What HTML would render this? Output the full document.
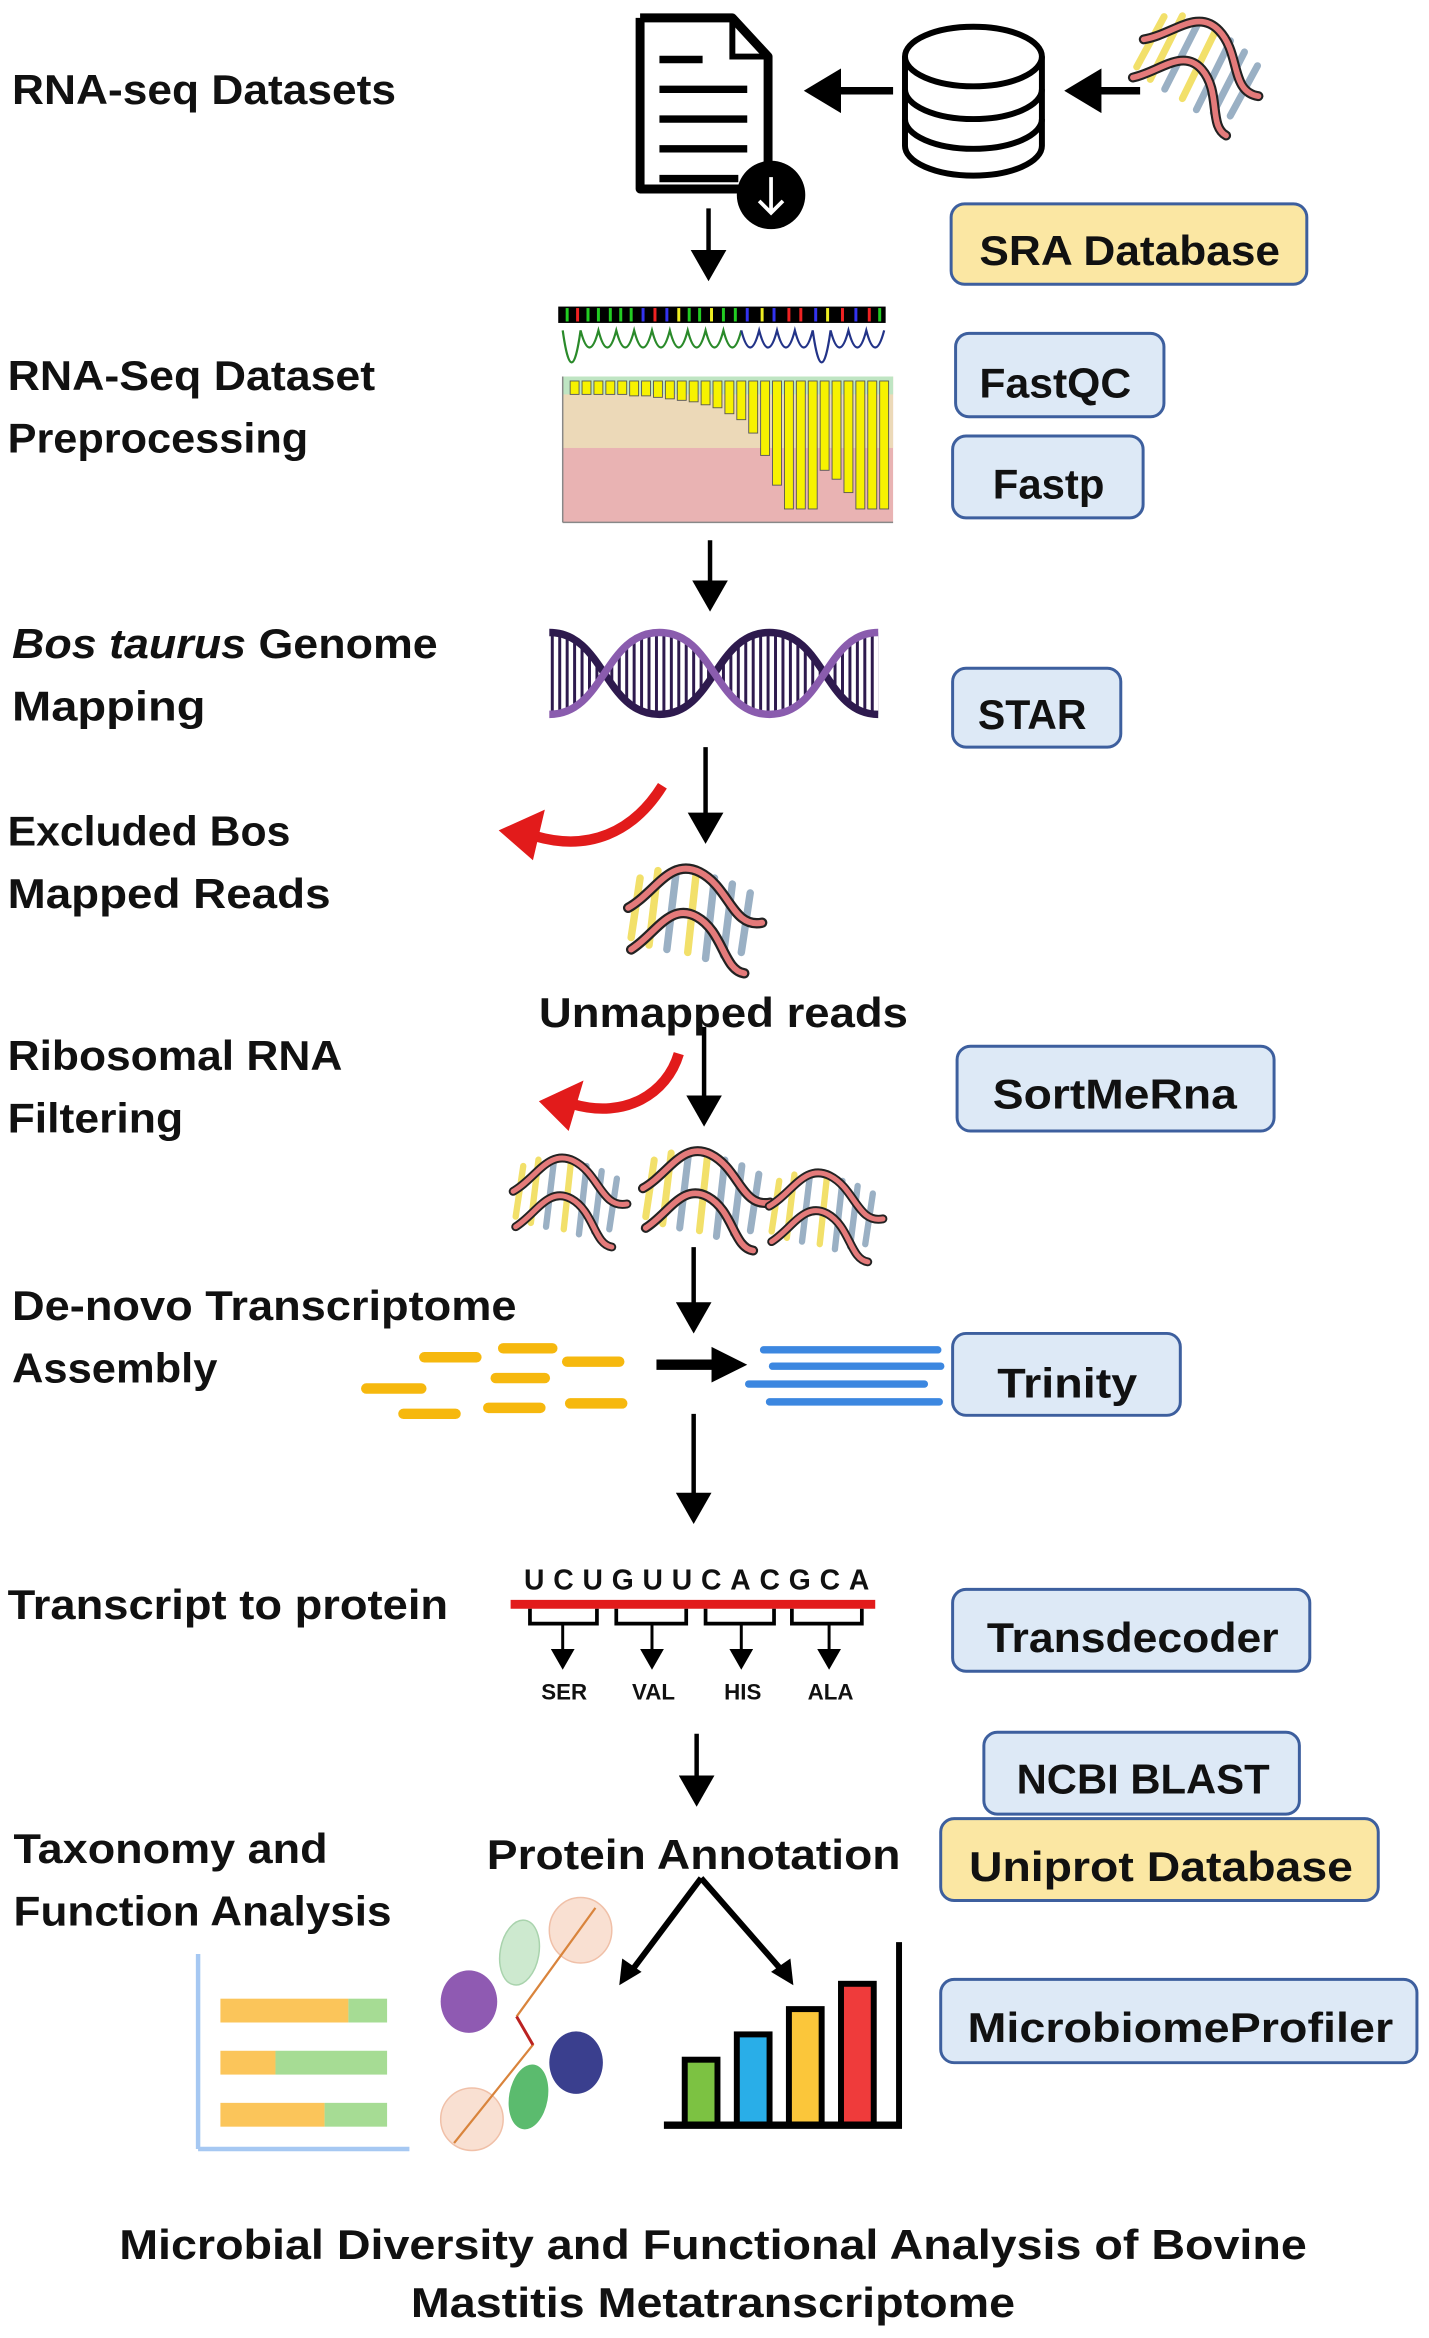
<!DOCTYPE html>
<html><head><meta charset="utf-8"><style>
html,body{margin:0;padding:0;background:#fff;}
svg{display:block;}
text{font-family:"Liberation Sans",sans-serif;font-weight:bold;fill:#111;}
.lbl{font-size:28px;}
.box{stroke:#3d5f9e;stroke-width:2;}
.blue{fill:#dde9f6;}
.yel{fill:#fbe7a3;}
</style></head><body>
<svg width="1429" height="2338" viewBox="0 0 960 1571" xmlns="http://www.w3.org/2000/svg">
<defs>
<marker id="ah" markerWidth="8" markerHeight="8" refX="6" refY="4" orient="auto" markerUnits="strokeWidth">
<path d="M0,0 L7,4 L0,8 Z" fill="#000"/></marker>
<marker id="ah2" markerWidth="6" markerHeight="6" refX="4" refY="3" orient="auto" markerUnits="strokeWidth">
<path d="M0,0 L5,3 L0,6 Z" fill="#000"/></marker>
<pattern id="vl" width="5" height="10" patternUnits="userSpaceOnUse"><rect x="0" y="0" width="2" height="10" fill="#2e1a4e"/></pattern>
<g id="reads">
<line x1="10" y1="10" x2="4" y2="50" stroke="#f2e06a" stroke-width="5" stroke-linecap="round"/>
<line x1="22" y1="5" x2="16" y2="55" stroke="#f2e06a" stroke-width="5" stroke-linecap="round"/>
<line x1="34" y1="8" x2="28" y2="58" stroke="#9ab0c4" stroke-width="5" stroke-linecap="round"/>
<line x1="48" y1="4" x2="42" y2="60" stroke="#f2e06a" stroke-width="5" stroke-linecap="round"/>
<line x1="60" y1="10" x2="54" y2="64" stroke="#9ab0c4" stroke-width="5" stroke-linecap="round"/>
<line x1="72" y1="14" x2="66" y2="62" stroke="#9ab0c4" stroke-width="5" stroke-linecap="round"/>
<line x1="84" y1="20" x2="78" y2="60" stroke="#9ab0c4" stroke-width="5" stroke-linecap="round"/>
<path d="M2,30 C20,20 30,-4 50,6 C70,16 72,44 92,40" fill="none" stroke="#222" stroke-width="7" stroke-linecap="round"/>
<path d="M2,30 C20,20 30,-4 50,6 C70,16 72,44 92,40" fill="none" stroke="#e47a7a" stroke-width="4" stroke-linecap="round"/>
<path d="M4,58 C20,48 30,26 48,36 C66,46 66,72 80,74" fill="none" stroke="#222" stroke-width="7" stroke-linecap="round"/>
<path d="M4,58 C20,48 30,26 48,36 C66,46 66,72 80,74" fill="none" stroke="#e47a7a" stroke-width="4" stroke-linecap="round"/>
</g>
</defs>

<text class="lbl" x="8" y="70" textLength="258" lengthAdjust="spacingAndGlyphs">RNA-seq Datasets</text>
<text class="lbl" x="5" y="262" textLength="247" lengthAdjust="spacingAndGlyphs">RNA-Seq Dataset</text>
<text class="lbl" x="5" y="304" textLength="202" lengthAdjust="spacingAndGlyphs">Preprocessing</text>
<text class="lbl" x="8" y="442" textLength="286" lengthAdjust="spacingAndGlyphs"><tspan font-style="italic">Bos taurus </tspan>Genome</text>
<text class="lbl" x="8" y="484" textLength="130" lengthAdjust="spacingAndGlyphs">Mapping</text>
<text class="lbl" x="5" y="568" textLength="190" lengthAdjust="spacingAndGlyphs">Excluded Bos</text>
<text class="lbl" x="5" y="610" textLength="217" lengthAdjust="spacingAndGlyphs">Mapped Reads</text>
<text class="lbl" x="5" y="719" textLength="225" lengthAdjust="spacingAndGlyphs">Ribosomal RNA</text>
<text class="lbl" x="5" y="761" textLength="118" lengthAdjust="spacingAndGlyphs">Filtering</text>
<text class="lbl" x="8" y="887" textLength="339" lengthAdjust="spacingAndGlyphs">De-novo Transcriptome</text>
<text class="lbl" x="8" y="929" textLength="138" lengthAdjust="spacingAndGlyphs">Assembly</text>
<text class="lbl" x="5" y="1088" textLength="296" lengthAdjust="spacingAndGlyphs">Transcript to protein</text>
<text class="lbl" x="9" y="1252" textLength="211" lengthAdjust="spacingAndGlyphs">Taxonomy and</text>
<text class="lbl" x="9" y="1294" textLength="254" lengthAdjust="spacingAndGlyphs">Function Analysis</text>

<rect class="box yel" x="639" y="137" width="239" height="54" rx="9"/>
<text class="lbl" x="658" y="178" textLength="202" lengthAdjust="spacingAndGlyphs">SRA Database</text>
<rect class="box blue" x="642" y="224" width="140" height="56" rx="9"/>
<text class="lbl" x="658" y="267" textLength="102" lengthAdjust="spacingAndGlyphs">FastQC</text>
<rect class="box blue" x="640" y="293" width="128" height="55" rx="9"/>
<text class="lbl" x="667" y="335" textLength="75" lengthAdjust="spacingAndGlyphs">Fastp</text>
<rect class="box blue" x="640" y="449" width="113" height="53" rx="9"/>
<text class="lbl" x="657" y="490" textLength="73" lengthAdjust="spacingAndGlyphs">STAR</text>
<rect class="box blue" x="643" y="703" width="213" height="57" rx="9"/>
<text class="lbl" x="667" y="745" textLength="164" lengthAdjust="spacingAndGlyphs">SortMeRna</text>
<rect class="box blue" x="640" y="896" width="153" height="55" rx="9"/>
<text class="lbl" x="670" y="939" textLength="94" lengthAdjust="spacingAndGlyphs">Trinity</text>
<rect class="box blue" x="640" y="1068" width="240" height="55" rx="9"/>
<text class="lbl" x="663" y="1110" textLength="196" lengthAdjust="spacingAndGlyphs">Transdecoder</text>
<rect class="box blue" x="661" y="1164" width="212" height="55" rx="9"/>
<text class="lbl" x="683" y="1205" textLength="170" lengthAdjust="spacingAndGlyphs">NCBI BLAST</text>
<rect class="box yel" x="632" y="1222" width="294" height="55" rx="9"/>
<text class="lbl" x="651" y="1264" textLength="258" lengthAdjust="spacingAndGlyphs">Uniprot Database</text>
<rect class="box blue" x="632" y="1330" width="320" height="56" rx="9"/>
<text class="lbl" x="650" y="1372" textLength="286" lengthAdjust="spacingAndGlyphs">MicrobiomeProfiler</text>

<path d="M430,12 L492,12 L516,38 L516,112" fill="none" stroke="#000" stroke-width="6" stroke-linejoin="round"/>
<path d="M430,12 L430,127 L500,127" fill="none" stroke="#000" stroke-width="6" stroke-linejoin="round"/>
<path d="M492,14 L492,38 L514,38" fill="none" stroke="#000" stroke-width="4"/>
<g stroke="#000" stroke-width="5"><line x1="443" y1="40" x2="472" y2="40"/><line x1="443" y1="60" x2="502" y2="60"/><line x1="443" y1="80" x2="502" y2="80"/><line x1="443" y1="100" x2="502" y2="100"/><line x1="443" y1="120" x2="496" y2="120"/></g>
<circle cx="518" cy="131" r="23" fill="#000"/>
<path d="M518,119 L518,143 M510,135 L518,143 L526,135" stroke="#fff" stroke-width="2.5" fill="none"/>
<g fill="#fff" stroke="#000" stroke-width="4">
<path d="M608,38 L608,98 A46,20 0 0 0 700,98 L700,38"/>
<ellipse cx="654" cy="38" rx="46" ry="20"/>
<path d="M608,60 A46,20 0 0 0 700,60" fill="none"/>
<path d="M608,80 A46,20 0 0 0 700,80" fill="none"/>
</g>
<line x1="600" y1="61" x2="545" y2="61" stroke="#000" stroke-width="5" marker-end="url(#ah2)"/>
<line x1="766" y1="61" x2="720" y2="61" stroke="#000" stroke-width="5" marker-end="url(#ah2)"/>
<use href="#reads" transform="translate(760,12) rotate(20 45 40) scale(0.95)"/>

<g stroke="#000" stroke-width="3" marker-end="url(#ah)">
<line x1="476" y1="140" x2="476" y2="186"/>
<line x1="477" y1="363" x2="477" y2="408"/>
<line x1="474" y1="502" x2="474" y2="564"/>
<line x1="473" y1="690" x2="473" y2="754"/>
<line x1="466" y1="838" x2="466" y2="893"/>
<line x1="466" y1="950" x2="466" y2="1021"/>
<line x1="468" y1="1165" x2="468" y2="1211"/>
</g>

<g>
<rect x="375" y="206" width="220" height="11" fill="#000"/>
<g stroke-width="2">
<line x1="381" y1="207" x2="381" y2="216" stroke="#2c2"/><line x1="388" y1="207" x2="388" y2="216" stroke="#e22"/><line x1="395" y1="207" x2="395" y2="216" stroke="#2c2"/><line x1="402" y1="207" x2="402" y2="216" stroke="#2c2"/><line x1="410" y1="207" x2="410" y2="216" stroke="#2c2"/><line x1="417" y1="207" x2="417" y2="216" stroke="#2c2"/><line x1="424" y1="207" x2="424" y2="216" stroke="#2c2"/><line x1="432" y1="207" x2="432" y2="216" stroke="#33e"/><line x1="440" y1="207" x2="440" y2="216" stroke="#e22"/><line x1="448" y1="207" x2="448" y2="216" stroke="#33e"/><line x1="456" y1="207" x2="456" y2="216" stroke="#ee2"/><line x1="463" y1="207" x2="463" y2="216" stroke="#2c2"/><line x1="470" y1="207" x2="470" y2="216" stroke="#2c2"/><line x1="478" y1="207" x2="478" y2="216" stroke="#ee2"/><line x1="486" y1="207" x2="486" y2="216" stroke="#2c2"/><line x1="494" y1="207" x2="494" y2="216" stroke="#2c2"/><line x1="502" y1="207" x2="502" y2="216" stroke="#33e"/><line x1="512" y1="207" x2="512" y2="216" stroke="#ee2"/><line x1="520" y1="207" x2="520" y2="216" stroke="#33e"/><line x1="530" y1="207" x2="530" y2="216" stroke="#e22"/><line x1="538" y1="207" x2="538" y2="216" stroke="#e22"/><line x1="548" y1="207" x2="548" y2="216" stroke="#33e"/><line x1="556" y1="207" x2="556" y2="216" stroke="#ee2"/><line x1="566" y1="207" x2="566" y2="216" stroke="#e22"/><line x1="575" y1="207" x2="575" y2="216" stroke="#33e"/><line x1="584" y1="207" x2="584" y2="216" stroke="#e22"/><line x1="591" y1="207" x2="591" y2="216" stroke="#2c2"/>
</g>
<path d="M378,222 Q384,265 390,222 Q396,245 402,222 Q408,245 414,222 Q420,245 426,222 Q432,245 438,222 Q444,245 450,222 Q456,245 462,222 Q468,245 474,222 Q480,245 486,222 Q492,245 498,222" fill="none" stroke="#2a8a2a" stroke-width="1.5"/>
<path d="M498,222 Q504,245 510,222 Q516,245 522,222 Q528,245 534,222 Q540,245 546,222 Q552,265 558,222 Q564,245 570,222 Q576,245 582,222 Q588,245 594,222" fill="none" stroke="#223388" stroke-width="1.5"/>
<rect x="378" y="253" width="222" height="98" fill="#e9b3b3"/>
<rect x="378" y="253" width="222" height="48" fill="#ecd9b8"/>
<rect x="378" y="253" width="222" height="12" fill="#bfe5c3"/>
<g fill="#f7f200" stroke="#555" stroke-width="0.6">
<rect x="383" y="256" width="6" height="9"/><rect x="391" y="256" width="6" height="9"/><rect x="399" y="256" width="6" height="9"/><rect x="407" y="256" width="6" height="9"/><rect x="415" y="256" width="6" height="9"/><rect x="423" y="256" width="6" height="10"/><rect x="431" y="256" width="6" height="10"/><rect x="439" y="256" width="6" height="11"/><rect x="447" y="256" width="6" height="12"/><rect x="455" y="256" width="6" height="13"/><rect x="463" y="256" width="6" height="14"/><rect x="471" y="256" width="6" height="16"/><rect x="479" y="256" width="6" height="18"/><rect x="487" y="256" width="6" height="22"/><rect x="495" y="256" width="6" height="26"/><rect x="503" y="256" width="6" height="35"/><rect x="511" y="256" width="6" height="50"/><rect x="519" y="256" width="6" height="70"/><rect x="527" y="256" width="6" height="86"/><rect x="535" y="256" width="6" height="86"/><rect x="543" y="256" width="6" height="86"/><rect x="551" y="256" width="6" height="60"/><rect x="559" y="256" width="6" height="66"/><rect x="567" y="256" width="6" height="75"/><rect x="575" y="256" width="6" height="86"/><rect x="583" y="256" width="6" height="86"/><rect x="591" y="256" width="6" height="86"/>
</g>
<line x1="378" y1="351" x2="600" y2="351" stroke="#888" stroke-width="1"/>
<line x1="378" y1="253" x2="378" y2="351" stroke="#888" stroke-width="1"/>
</g>

<!-- DNA helix: half period 74 -->
<path d="M369,425 C406,425 406,480 443,480 C480,480 480,425 517,425 C554,425 554,480 590,480 L590,425 C554,425 554,480 517,480 C480,480 480,425 443,425 C406,425 406,480 369,480 Z" fill="url(#vl)" stroke="none"/>
<path d="M369,425 C406,425 406,480 443,480 C480,480 480,425 517,425 C554,425 554,480 590,480" fill="none" stroke="#2e1a4e" stroke-width="5"/>
<path d="M369,480 C406,480 406,425 443,425 C480,425 480,480 517,480 C554,480 554,425 590,425" fill="none" stroke="#8a5cae" stroke-width="5"/>

<path d="M445,528 C425,560 395,572 360,562" fill="none" stroke="#e21b1b" stroke-width="7"/>
<path d="M335,558 L366,544 L358,578 Z" fill="#e21b1b"/>
<path d="M456,708 C448,735 420,752 385,742" fill="none" stroke="#e21b1b" stroke-width="7"/>
<path d="M362,740 L392,726 L382,760 Z" fill="#e21b1b"/>

<use href="#reads" transform="translate(420,580)"/>
<text x="486" y="690" text-anchor="middle" font-size="28" textLength="248" lengthAdjust="spacingAndGlyphs">Unmapped reads</text>
<use href="#reads" transform="translate(343,775) scale(0.85)"/>
<use href="#reads" transform="translate(430,770) scale(0.95)"/>
<use href="#reads" transform="translate(515,785) scale(0.85)"/>

<g stroke="#f6b80e" stroke-width="7" stroke-linecap="round">
<line x1="285" y1="912" x2="320" y2="912"/><line x1="338" y1="906" x2="371" y2="906"/><line x1="381" y1="915" x2="416" y2="915"/><line x1="333" y1="926" x2="366" y2="926"/><line x1="246" y1="933" x2="283" y2="933"/><line x1="271" y1="950" x2="306" y2="950"/><line x1="328" y1="946" x2="363" y2="946"/><line x1="383" y1="943" x2="418" y2="943"/>
</g>
<line x1="441" y1="917" x2="480" y2="917" stroke="#000" stroke-width="7"/>
<path d="M478,905 L502,917 L478,929 Z" fill="#000"/>
<g stroke="#3c87e0" stroke-width="5" stroke-linecap="round">
<line x1="513" y1="907" x2="630" y2="907"/><line x1="519" y1="918" x2="632" y2="918"/><line x1="503" y1="930" x2="621" y2="930"/><line x1="517" y1="942" x2="631" y2="942"/>
</g>

<text x="352" y="1068" font-size="19" textLength="232" lengthAdjust="spacing">UCUGUUCACGCA</text>
<line x1="343" y1="1078" x2="588" y2="1078" stroke="#e21b1b" stroke-width="6"/>
<g fill="none" stroke="#000" stroke-width="2.5">
<path d="M356,1081 L356,1091 L401,1091 L401,1081"/><path d="M414,1081 L414,1091 L461,1091 L461,1081"/><path d="M474,1081 L474,1091 L520,1091 L520,1081"/><path d="M532,1081 L532,1091 L579,1091 L579,1081"/>
</g>
<g stroke="#000" stroke-width="2" marker-end="url(#ah)">
<line x1="378" y1="1091" x2="378" y2="1120"/><line x1="438" y1="1091" x2="438" y2="1120"/><line x1="498" y1="1091" x2="498" y2="1120"/><line x1="557" y1="1091" x2="557" y2="1120"/>
</g>
<g font-size="15" text-anchor="middle"><text x="379" y="1142">SER</text><text x="439" y="1142">VAL</text><text x="499" y="1142">HIS</text><text x="558" y="1142">ALA</text></g>

<text x="466" y="1256" text-anchor="middle" font-size="28" textLength="278" lengthAdjust="spacingAndGlyphs">Protein Annotation</text>
<g stroke="#000" stroke-width="4" fill="none">
<path d="M471,1262 L423,1326"/><path d="M471,1262 L527,1326"/>
</g>
<path d="M416,1334 L418,1316 L431,1325 Z" fill="#000"/>
<path d="M533,1334 L518,1325 L531,1316 Z" fill="#000"/>

<g stroke="#a6c8f2" stroke-width="3">
<line x1="133" y1="1313" x2="133" y2="1444"/><line x1="133" y1="1444" x2="275" y2="1444"/>
</g>
<rect x="148" y="1343" width="86" height="16" fill="#fbc55a"/><rect x="234" y="1343" width="26" height="16" fill="#a6dc94"/>
<rect x="148" y="1378" width="37" height="16" fill="#fbc55a"/><rect x="185" y="1378" width="75" height="16" fill="#a6dc94"/>
<rect x="148" y="1413" width="70" height="16" fill="#fbc55a"/><rect x="218" y="1413" width="42" height="16" fill="#a6dc94"/>

<ellipse cx="390" cy="1297" rx="21" ry="22" fill="#f9e0d2" stroke="#f0c0a8"/>
<ellipse cx="349" cy="1312" rx="13" ry="22" fill="#cde9cf" stroke="#a9d3ad" transform="rotate(10 349 1312)"/>
<ellipse cx="315" cy="1345" rx="19" ry="21" fill="#8f5ab2"/>
<ellipse cx="387" cy="1386" rx="18" ry="21" fill="#3a3f8e"/>
<ellipse cx="355" cy="1409" rx="13" ry="22" fill="#5bbb6e" transform="rotate(10 355 1409)"/>
<ellipse cx="317" cy="1424" rx="21" ry="21" fill="#f9e0d2" stroke="#f0c0a8"/>
<path d="M347,1355 L400,1282 M347,1355 L358,1374 L305,1440" stroke="#d9843c" stroke-width="1.5" fill="none"/>
<path d="M347,1355 L358,1374" stroke="#b22" stroke-width="2"/>

<g stroke="#000" stroke-width="4">
<rect x="460" y="1384" width="22" height="44" fill="#7cc242"/>
<rect x="495" y="1367" width="22" height="61" fill="#29aee8"/>
<rect x="530" y="1350" width="22" height="78" fill="#fbc63a"/>
<rect x="565" y="1333" width="22" height="95" fill="#ef3b3b"/>
<line x1="446" y1="1428" x2="606" y2="1428" stroke-width="5"/>
<line x1="604" y1="1305" x2="604" y2="1430" stroke-width="4"/>
</g>

<text x="479" y="1518" text-anchor="middle" font-size="28" textLength="798" lengthAdjust="spacingAndGlyphs">Microbial Diversity and Functional Analysis of Bovine</text>
<text x="479" y="1557" text-anchor="middle" font-size="28" textLength="406" lengthAdjust="spacingAndGlyphs">Mastitis Metatranscriptome</text>
</svg>
</body></html>
